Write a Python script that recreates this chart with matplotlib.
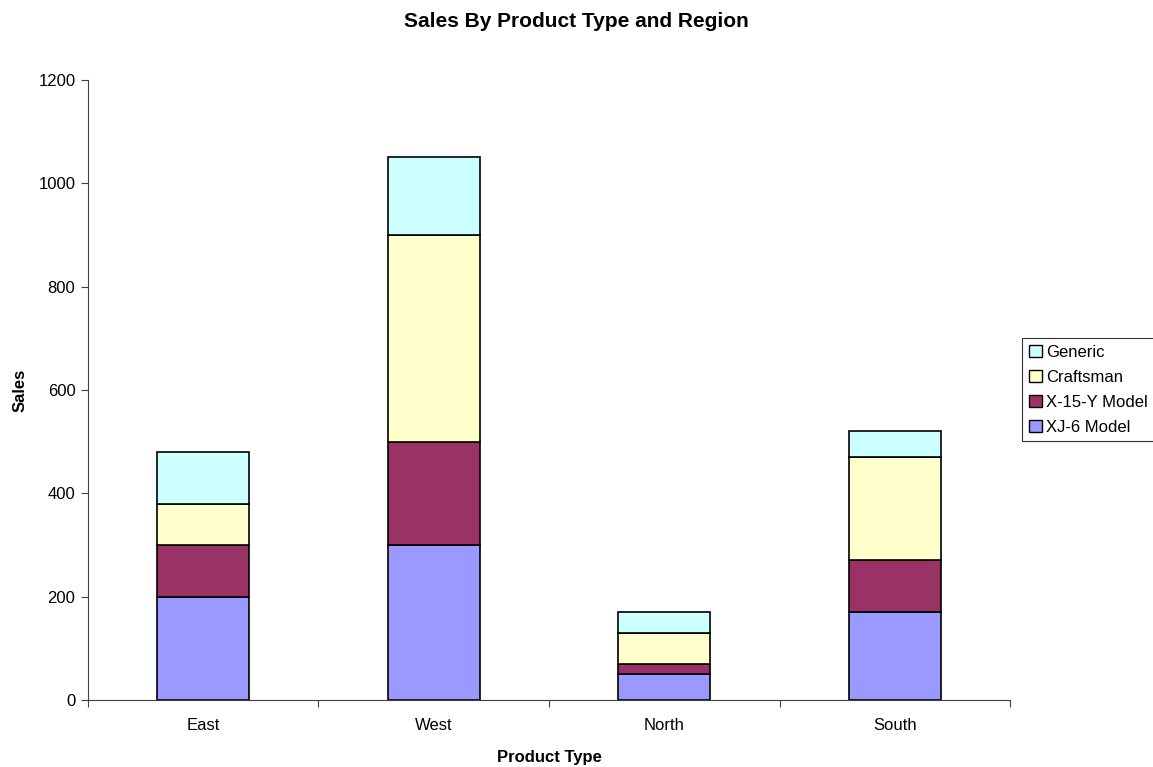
import numpy as np
import matplotlib
matplotlib.use("Agg")
import matplotlib.pyplot as plt
from matplotlib.patches import Patch

plt.rcParams["font.family"] = ["Liberation Sans", "DejaVu Sans"]

regions = ["East", "West", "North", "South"]
xj6 = [200, 300, 50, 170]
x15y = [100, 200, 20, 100]
craftsman = [80, 400, 60, 200]
generic = [100, 150, 40, 50]

series = [("XJ-6 Model", xj6, "#9999ff"),
          ("X-15-Y Model", x15y, "#993366"),
          ("Craftsman", craftsman, "#ffffcc"),
          ("Generic", generic, "#ccffff")]

fig = plt.figure(figsize=(11.53, 7.67), dpi=100)
ax = fig.add_axes([0.0763, 0.0874, 0.7997, 0.8083])

x = np.arange(len(regions))
bottom = np.zeros(len(regions))
for name, vals, col in series:
    ax.bar(x, vals, width=0.4, bottom=bottom, color=col, edgecolor="black",
           linewidth=1.2, label=name, zorder=2)
    bottom += np.array(vals)

ax.set_xlim(-0.5, len(regions) - 0.5)
ax.set_ylim(0, 1200)
ax.set_yticks(np.arange(0, 1201, 200))
ax.set_xticks(np.arange(-0.5, len(regions), 1.0))
ax.set_xticklabels([])
ax.set_xticks(x, minor=True)
ax.set_xticklabels(regions, minor=True)
ax.tick_params(axis="x", which="minor", length=0, pad=13, labelsize=12)
ax.tick_params(axis="x", which="major", direction="out", length=5, color="#404040")
ax.tick_params(axis="y", direction="out", length=5, labelsize=12, pad=4, color="#404040")

for s in ["top", "right"]:
    ax.spines[s].set_visible(False)
for s in ["left", "bottom"]:
    ax.spines[s].set_color("#404040")

ax.set_xlabel("Product Type", fontsize=12, fontweight="bold", labelpad=12)
ax.set_ylabel("Sales", fontsize=12, fontweight="bold", labelpad=8)
fig.suptitle("Sales By Product Type and Region", fontsize=15, fontweight="bold",
             y=0.985)

handles = [Patch(facecolor=c, edgecolor="black", label=n) for n, _, c in series[::-1]]
leg = fig.legend(handles=handles, loc="upper left", bbox_to_anchor=(0.8868, 0.5593),
                 fontsize=12, frameon=True, fancybox=False, edgecolor="black",
                 handlelength=0.75, handleheight=0.75, handletextpad=0.25,
                 labelspacing=0.6, borderpad=0.4, borderaxespad=0)
leg.get_frame().set_linewidth(0.8)

fig.savefig("out.png", dpi=100)
